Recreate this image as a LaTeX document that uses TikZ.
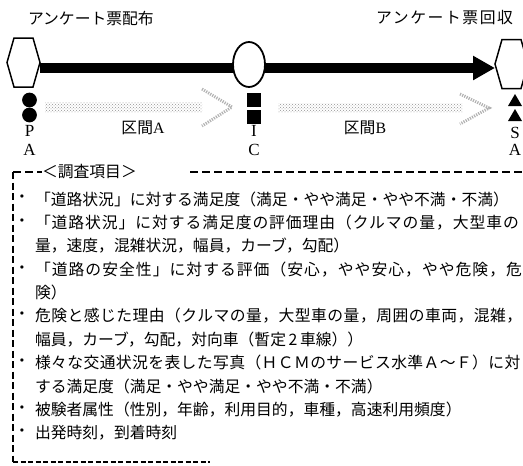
\documentclass[tikz,border=0pt]{standalone}
\usepackage{fontspec}
\setmainfont{Liberation Serif}
\newfontfamily\jpf{Noto Sans CJK JP}
\usetikzlibrary{arrows.meta,patterns,shapes.geometric}
\begin{document}
\begin{tikzpicture}[x=1pt,y=-1pt,
  jt/.style={font=\jpf\fontsize{15.8pt}{16pt}\selectfont, inner sep=0pt, outer sep=0pt},
  item/.style={jt, anchor=west},
  bul/.style={jt, anchor=center},
  lat/.style={font=\fontsize{17pt}{17pt}\selectfont, inner sep=0pt, outer sep=0pt},
  hexo/.style={line width=1.5pt, line join=miter},
  framev/.style={line width=1.4pt, dash pattern=on 7pt off 3.5pt},
  frameh/.style={line width=1.6pt, dash pattern=on 8pt off 4pt},
  frameb/.style={line width=2.6pt, dash pattern=on 5pt off 2.5pt},
  stipfill/.style={pattern=crosshatch dots, pattern color=gray!85},
  stiphead/.style={draw=gray!60, line width=3pt, dash pattern=on 1.2pt off 1.2pt},
  hexbox/.style={minimum width=33pt, minimum height=49pt, inner sep=0pt, outer sep=0pt}
]
\useasboundingbox (0,0) rectangle (523,466);
\clip (0,0) rectangle (523,466);

% top labels
\node[jt, anchor=west] (distrib) at (28,18) {アンケート票配布};
\node[jt, anchor=east] (collect) at (513,18) {\addfontfeature{LetterSpace=10}アンケート票回収};

% hexagons
\node[hexbox] (hexL) at (23.5,62.5) {};
\node[hexbox] (hexR) at (511.5,64) {};
\draw[hexo] (hexL.west) -- ([xshift=7pt]hexL.north west) -- ([xshift=-7pt]hexL.north east) -- (hexL.east) -- ([xshift=-7pt]hexL.south east) -- ([xshift=7pt]hexL.south west) -- cycle;
\draw[hexo] (hexR.west) -- ([xshift=7pt]hexR.north west) -- ([xshift=-7pt]hexR.north east) -- (hexR.east) -- ([xshift=-7pt]hexR.south east) -- ([xshift=7pt]hexR.south west) -- cycle;

% main arrow
\coordinate (mL) at (40,68);
\coordinate (mR) at (495,68);
\draw[line width=9.5pt, -{Triangle[length=22pt,width=23pt]}] (mL) -- (mR);
\node[ellipse, draw, line width=1.8pt, fill=white, minimum width=32pt, minimum height=45pt, inner sep=0pt] (ic) at (249,64.5) {};

% markers
\fill (29.5,100) circle (7.4pt);
\fill (29.5,115) circle (7.4pt);
\fill (247,93) rectangle (261,107);
\fill (247,110) rectangle (261,124);
\fill (508,106) -- (515,94) -- (522,106) -- cycle;
\fill (508,121) -- (515,109) -- (522,121) -- cycle;

\node[lat] (lP) at (29.5,131) {P};
\node[lat] (lA1) at (29.5,150) {A};
\node[lat] (lI) at (254,131) {I};
\node[lat] (lC) at (254,150) {C};
\node[lat] (lS) at (515,133) {S};
\node[lat] (lA2) at (515,150) {A};

% stippled section arrows
\fill[stipfill] (45,102) rectangle (202,112);
\draw[stiphead] (202,89) -- (232,107) -- (202,126);
\fill[stipfill] (278,103) rectangle (462,112);
\draw[stiphead] (460,94) -- (489,108) -- (460,124);
\node[jt] (secA) at (143,127.5) {区間\rmfamily A};
\node[jt] (secB) at (365,127.5) {区間\rmfamily B};

% survey frame
\node[jt, anchor=west] (head) at (42,172) {＜調査項目＞};
\coordinate (fTL) at (13,172);
\coordinate (fBL) at (13,462);
\coordinate (fT1) at (42,172);
\coordinate (fT2) at (190,172);
\coordinate (fTR) at (530,172);
\coordinate (fBR) at (210,462);
\draw[framev] (fTL) -- (fBL);
\draw[frameh] (fTL) -- (fT1);
\draw[frameh] (fT2) -- (fTR);
\draw[frameb] (fBL) -- (fBR);

% items
\node[bul] (b1) at (22,199) {・};
\node[item] (t1) at (35,199) {「道路状況」に対する満足度（満足・やや満足・やや不満・不満）};
\node[bul] (b2) at (22,222.4) {・};
\node[item] (t2) at (35,222.4) {\addfontfeature{LetterSpace=5.9}「道路状況」に対する満足度の評価理由（クルマの量，大型車の};
\node[item] (t3) at (35,245.8) {量，速度，混雑状況，幅員，カーブ，勾配）};
\node[bul] (b4) at (22,269.2) {・};
\node[item] (t4) at (35,269.2) {\addfontfeature{LetterSpace=6.5}「道路の安全性」に対する評価（安心，やや安心，やや危険，危};
\node[item] (t5) at (35,292.6) {険）};
\node[bul] (b6) at (22,316) {・};
\node[item] (t6) at (35,316) {\addfontfeature{LetterSpace=3}危険と感じた理由（クルマの量，大型車の量，周囲の車両，混雑，};
\node[item] (t7) at (35,339.4) {幅員，カーブ，勾配，対向車（暫定\,2\,車線））};
\node[bul] (b8) at (22,362.8) {・};
\node[item] (t8) at (35,362.8) {\addfontfeature{LetterSpace=2.5}様々な交通状況を表した写真（ＨＣＭのサービス水準Ａ～Ｆ）に対};
\node[item] (t9) at (35,386.2) {する満足度（満足・やや満足・やや不満・不満）};
\node[bul] (b10) at (22,409.6) {・};
\node[item] (t10) at (35,409.6) {被験者属性（性別，年齢，利用目的，車種，高速利用頻度）};
\node[bul] (b11) at (22,433) {・};
\node[item] (t11) at (35,433) {出発時刻，到着時刻};
\end{tikzpicture}
\end{document}
